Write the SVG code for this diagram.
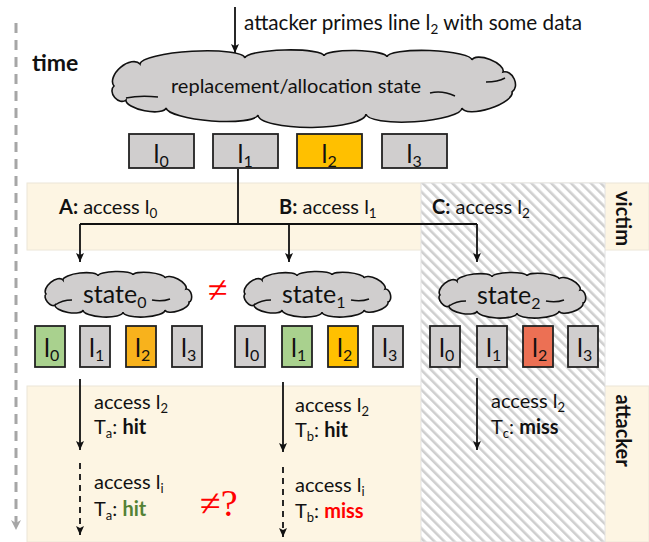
<svg xmlns="http://www.w3.org/2000/svg" xmlns:xlink="http://www.w3.org/1999/xlink" width="649" height="542" viewBox="0 0 649 542">
<style>
text{font-family:Lato,"Liberation Sans",sans-serif;fill:#111}
.box{stroke:#222;stroke-width:1.8}
.g{fill:#D0CECE}.gr{fill:#A9D18E}.o{fill:#FFC000}.oa{fill:#F8B21C}.r{fill:#EC7054}
.cl{fill:#D0CECE;stroke:#111;stroke-width:1.6}
.hk{fill:none;stroke:#111;stroke-width:1.5}
.cn{fill:none;stroke:#111;stroke-width:1.8}
.dash{stroke-dasharray:6 5}
.band{fill:#FDF5E3}
.b{font-weight:bold}
</style>
<defs>
<marker id="ah" markerUnits="userSpaceOnUse" markerWidth="10" markerHeight="10" refX="9" refY="4" orient="auto">
<path d="M0,0 L9,4 L0,8 L2,4 z" fill="#111"/>
</marker>
<marker id="ahg" markerUnits="userSpaceOnUse" markerWidth="12" markerHeight="12" refX="10" refY="5" orient="auto">
<path d="M0,0 L10,5 L0,10 L3,5 z" fill="#A6A6A6"/>
</marker>
<pattern id="hatch" width="7" height="7" patternUnits="userSpaceOnUse" patternTransform="rotate(-45)">
<rect width="7" height="7" fill="#fff"/>
<rect width="2.6" height="7" fill="#CFCFCF"/>
</pattern>
<path id="sc" d="M 3 22 A 11 6 -39.5 0 1 20 8 A 17.6 5 -6.5 0 1 55 4 A 17.5 4 -1.6 0 1 90 3 A 16 4 5.4 0 1 122 6 A 11.8 5 27.6 0 1 143 17 A 6.6 4 77 0 1 146 30 A 12.6 5 161.6 0 1 122 38 A 21 6 177.3 0 1 80 40 A 20 6 -177.1 0 1 40 38 A 14.2 5 -169.9 0 1 12 33 A 7.1 4 -129.3 0 1 3 22 Z"/>
</defs>

<!-- background bands -->
<g id="bands">
<rect class="band" x="27" y="183" width="622" height="67" stroke="#ECE6D8" stroke-width="1"/>
<rect class="band" x="27" y="386" width="622" height="156" stroke="#ECE6D8" stroke-width="1"/>
<rect x="421" y="183" width="184" height="359" fill="url(#hatch)" stroke="#E2E2E2" stroke-width="1"/>
</g>

<!-- time axis -->
<g id="time">
<line x1="16" y1="23" x2="16" y2="530" stroke="#A6A6A6" stroke-width="3" stroke-dasharray="10 7" marker-end="url(#ahg)"/>
<text x="32" y="71" class="b" font-size="23">time</text>
</g>

<g id="label-victim"><text transform="translate(623,218.5) rotate(90)" y="7" text-anchor="middle" class="b" font-size="20">victim</text></g>
<g id="label-attacker"><text transform="translate(623,430.5) rotate(90)" y="7" text-anchor="middle" class="b" font-size="20">attacker</text></g>

<!-- top -->
<g id="prime-label"><text x="244" y="30" font-size="20.7">attacker primes line l<tspan dy="4" font-size="13.5">2</tspan><tspan dy="-4"> with some data</tspan></text></g>

<g id="cloud-main">
<path class="cl" d="M 114 86 A 17 10 -40.2 0 1 140 64 A 52.6 10 -3.3 0 1 245 58 A 39.5 7 -1.5 0 1 324 56 A 31.5 6 0.9 0 1 387 57 A 42.5 8 2 0 1 472 60 A 16.6 7 21.2 0 1 503 72 A 11 8 65.8 0 1 512 92 A 26.2 9 162.3 0 1 462 108 A 48.1 11 176.4 0 1 366 114 A 54 13 179.5 0 1 258 115 A 46.2 10 -175.6 0 1 166 108 A 20.4 7 -168.7 0 1 126 100 A 9.2 7 -130.6 0 1 114 86 Z"/>
<path class="hk" d="M 126 98 Q 140 95 158 97 M 505 78 Q 498 82 486 82 M 430 93 Q 442 90 455 96"/>
<text x="171" y="93" font-size="20">replacement/allocation state</text>
</g>

<g id="top-l0"><rect class="box g" x="129" y="134" width="65" height="34"/><text x="153.5" y="163" font-size="25">l<tspan dy="4" font-size="16">0</tspan></text></g>
<g id="top-l1"><rect class="box g" x="213" y="134" width="65" height="34"/><text x="237.5" y="163" font-size="25">l<tspan dy="4" font-size="16">1</tspan></text></g>
<g id="top-l2"><rect class="box o" x="297" y="134" width="65" height="34"/><text x="321.5" y="163" font-size="25">l<tspan dy="4" font-size="16">2</tspan></text></g>
<g id="top-l3"><rect class="box g" x="382" y="134" width="65" height="34"/><text x="406.5" y="163" font-size="25">l<tspan dy="4" font-size="16">3</tspan></text></g>

<!-- victim labels -->
<g id="victim-A"><text x="59" y="214" font-size="20"><tspan class="b">A:</tspan> access l<tspan dy="4" font-size="13.5">0</tspan></text></g>
<g id="victim-B"><text x="279" y="214" font-size="20"><tspan class="b">B:</tspan> access l<tspan dy="4" font-size="13.5">1</tspan></text></g>
<g id="victim-C"><text x="432" y="214" font-size="20"><tspan class="b">C:</tspan> access l<tspan dy="4" font-size="13.5">2</tspan></text></g>

<!-- state clouds -->
<g id="state0">
<use xlink:href="#sc" href="#sc" x="43" y="272" class="cl"/>
<path class="hk" d="M 55 305 Q 62 300 72 300 M 170 299 Q 162 302 152 300"/>
<text x="83" y="303" font-size="25">state<tspan dy="5" font-size="16">0</tspan></text>
</g>
<g id="neq1"><text x="218" y="302" text-anchor="middle" font-size="36" style="fill:#FF0000;font-family:'Liberation Serif',serif">≠</text></g>
<g id="state1">
<use xlink:href="#sc" href="#sc" x="242" y="272" class="cl"/>
<path class="hk" d="M 254 305 Q 261 300 271 300 M 369 299 Q 361 302 351 300"/>
<text x="282" y="303" font-size="25">state<tspan dy="5" font-size="16">1</tspan></text>
</g>
<g id="state2">
<use xlink:href="#sc" href="#sc" x="437" y="273" class="cl"/>
<path class="hk" d="M 449 306 Q 456 301 466 301 M 564 300 Q 556 303 546 301"/>
<text x="477" y="304" font-size="25">state<tspan dy="5" font-size="16">2</tspan></text>
</g>

<!-- row boxes A -->
<g id="A-l0"><rect class="box gr" x="35" y="326" width="30" height="41"/><text x="44" y="357" font-size="25">l<tspan dy="4" font-size="16">0</tspan></text></g>
<g id="A-l1"><rect class="box g" x="80" y="326" width="30" height="41"/><text x="89" y="357" font-size="25">l<tspan dy="4" font-size="16">1</tspan></text></g>
<g id="A-l2"><rect class="box oa" x="126" y="326" width="30" height="41"/><text x="135" y="357" font-size="25">l<tspan dy="4" font-size="16">2</tspan></text></g>
<g id="A-l3"><rect class="box g" x="172" y="326" width="30" height="41"/><text x="181" y="357" font-size="25">l<tspan dy="4" font-size="16">3</tspan></text></g>
<!-- row boxes B -->
<g id="B-l0"><rect class="box g" x="235" y="326" width="30" height="41"/><text x="244" y="357" font-size="25">l<tspan dy="4" font-size="16">0</tspan></text></g>
<g id="B-l1"><rect class="box gr" x="282" y="326" width="30" height="41"/><text x="291" y="357" font-size="25">l<tspan dy="4" font-size="16">1</tspan></text></g>
<g id="B-l2"><rect class="box o" x="328" y="326" width="30" height="41"/><text x="337" y="357" font-size="25">l<tspan dy="4" font-size="16">2</tspan></text></g>
<g id="B-l3"><rect class="box g" x="373" y="326" width="30" height="41"/><text x="382" y="357" font-size="25">l<tspan dy="4" font-size="16">3</tspan></text></g>
<!-- row boxes C -->
<g id="C-l0"><rect class="box g" x="430" y="326" width="30" height="41"/><text x="439" y="357" font-size="25">l<tspan dy="4" font-size="16">0</tspan></text></g>
<g id="C-l1"><rect class="box g" x="477" y="326" width="30" height="41"/><text x="486" y="357" font-size="25">l<tspan dy="4" font-size="16">1</tspan></text></g>
<g id="C-l2"><rect class="box r" x="523" y="326" width="30" height="41"/><text x="532" y="357" font-size="25">l<tspan dy="4" font-size="16">2</tspan></text></g>
<g id="C-l3"><rect class="box g" x="568" y="326" width="30" height="41"/><text x="577" y="357" font-size="25">l<tspan dy="4" font-size="16">3</tspan></text></g>

<!-- attacker texts -->
<g id="att-A">
<text x="94" y="409" font-size="20">access l<tspan dy="4" font-size="13">2</tspan></text>
<text x="94" y="434" font-size="20">T<tspan dy="4" font-size="13">a</tspan><tspan dy="-4">: </tspan><tspan class="b">hit</tspan></text>
<text x="94" y="489" font-size="20">access l<tspan dy="4" font-size="13">i</tspan></text>
<text x="94" y="516" font-size="20">T<tspan dy="4" font-size="13">a</tspan><tspan dy="-4">: </tspan><tspan class="b" style="fill:#548235">hit</tspan></text>
</g>
<g id="neq2"><text x="200" y="516" font-size="38" style="fill:#FF0000;font-family:'Liberation Serif',serif">≠?</text></g>
<g id="att-B">
<text x="295" y="412" font-size="20">access l<tspan dy="4" font-size="13">2</tspan></text>
<text x="295" y="437" font-size="20">T<tspan dy="4" font-size="13">b</tspan><tspan dy="-4">: </tspan><tspan class="b">hit</tspan></text>
<text x="295" y="492" font-size="20">access l<tspan dy="4" font-size="13">i</tspan></text>
<text x="295" y="518" font-size="20">T<tspan dy="4" font-size="13">b</tspan><tspan dy="-4">: </tspan><tspan class="b" style="fill:#FF0000">miss</tspan></text>
</g>
<g id="att-C">
<text x="491" y="408" font-size="20">access l<tspan dy="4" font-size="13">2</tspan></text>
<text x="491" y="434" font-size="20">T<tspan dy="4" font-size="13">c</tspan><tspan dy="-4">: </tspan><tspan class="b">miss</tspan></text>
</g>

<!-- connectors -->
<g id="connectors">
<line class="cn" x1="235" y1="7" x2="235" y2="53" marker-end="url(#ah)"/>
<path class="cn" d="M238 169 V224 M80 224 H477"/>
<path class="cn" d="M80 224 V262" marker-end="url(#ah)"/>
<path class="cn" d="M289 224 V262" marker-end="url(#ah)"/>
<path class="cn" d="M477 224 V262" marker-end="url(#ah)"/>
<path class="cn" d="M80 379 V450" marker-end="url(#ah)"/>
<path class="cn" d="M283 382 V452" marker-end="url(#ah)"/>
<path class="cn" d="M477 378 V450" marker-end="url(#ah)"/>
<path class="cn dash" d="M80 463 V535" marker-end="url(#ah)"/>
<path class="cn dash" d="M283 467 V537" marker-end="url(#ah)"/>
</g>
</svg>
